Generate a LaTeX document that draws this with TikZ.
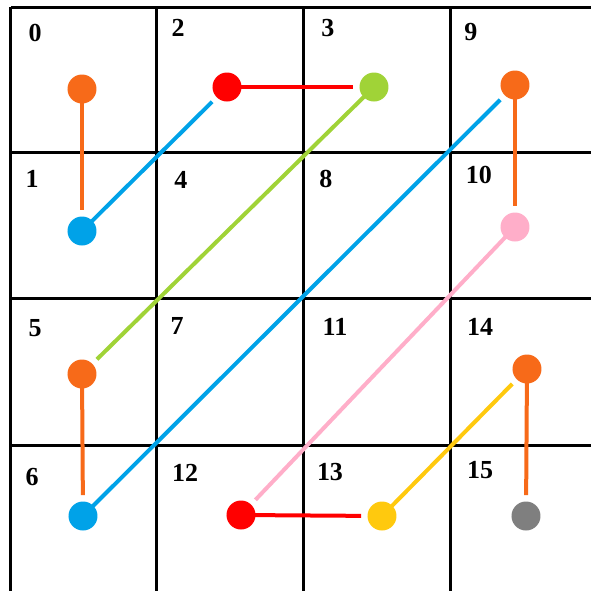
\documentclass[tikz,border=0pt]{standalone}
\usepackage{fontspec}
\setmainfont{Liberation Serif}
\usepackage{tikz}
\usepackage{xcolor}
\usetikzlibrary{positioning,backgrounds}
\definecolor{dotorange}{HTML}{F76A19}
\definecolor{dotblue}{HTML}{00A2E8}
\definecolor{dotred}{HTML}{FF0000}
\definecolor{dotgreen}{HTML}{A0D337}
\definecolor{dotpink}{HTML}{FFAEC9}
\definecolor{dotyellow}{HTML}{FFC90E}
\definecolor{dotgray}{HTML}{7F7F7F}

\begin{document}
\begin{tikzpicture}[
        x=0.5pt, y=-0.5pt,
        cellnum/.style={font=\fontsize{13}{15}\selectfont\bfseries, inner sep=0pt},
        dot/.style={circle, fill=#1, minimum size=14.5pt, inner sep=0pt},
        gridline/.style={line width=1.5pt, draw=black},
        link/.style={line width=2pt, draw=#1, shorten >=3pt}
      ]
        \useasboundingbox (0,0) rectangle (591,591);
        % cell numbers
        \node[cellnum] (l0)  at (35,33)   {0};
        \node[cellnum] (l2)  at (178,28)  {2};
        \node[cellnum] (l3)  at (328,28)  {3};
        \node[cellnum] (l9)  at (471,32)  {9};
        \node[cellnum] (l1)  at (32,179)  {1};
        \node[cellnum] (l4)  at (181,180) {4};
        \node[cellnum] (l8)  at (326,179) {8};
        \node[cellnum] (l10) at (479,175) {10};
        \node[cellnum] (l5)  at (35,328)  {5};
        \node[cellnum] (l7)  at (177,326) {7};
        \node[cellnum] (l11) at (335,327) {11};
        \node[cellnum] (l14) at (480,327) {14};
        \node[cellnum] (l6)  at (32,477)  {6};
        \node[cellnum] (l12) at (185,473) {12};
        \node[cellnum] (l13) at (330,472) {13};
        \node[cellnum] (l15) at (480,470) {15};
        % dots
        \node[dot=dotorange] (d0)  at (82,89)   {};
        \node[dot=dotblue]   (d1)  at (82,231)  {};
        \node[dot=dotred]    (d2)  at (227,87)  {};
        \node[dot=dotgreen]  (d3)  at (374,87)  {};
        \node[dot=dotorange] (d5)  at (82,374)  {};
        \node[dot=dotblue]   (d6)  at (83,516)  {};
        \node[dot=dotorange] (d9)  at (515,85)  {};
        \node[dot=dotpink]   (d10) at (515,227) {};
        \node[dot=dotred]    (d12) at (241,515) {};
        \node[dot=dotyellow] (d13) at (382,516) {};
        \node[dot=dotorange] (d14) at (527,369) {};
        \node[dot=dotgray]   (d15) at (526,516) {};
        \begin{scope}[on background layer]
          % grid
          \draw[gridline] (11,7) -- (591,7);
          \draw[gridline] (11,152) -- (591,152);
          \draw[gridline] (11,298) -- (591,298);
          \draw[gridline] (11,445) -- (591,445);
          \draw[gridline] (11,7) -- (11,591);
          \draw[gridline] (157,7) -- (157,591);
          \draw[gridline] (304,7) -- (304,591);
          \draw[gridline] (451,7) -- (451,591);
          % path
          \draw[link=dotorange] (d0.center)  -- (d1);
          \draw[link=dotblue]   (d1.center)  -- (d2);
          \draw[link=dotred]    (d2.center)  -- (d3);
          \draw[link=dotgreen]  (d3.center)  -- (d5);
          \draw[link=dotorange] (d5.center)  -- (d6);
          \draw[link=dotblue]   (d6.center)  -- (d9);
          \draw[link=dotorange] (d9.center)  -- (d10);
          \draw[link=dotpink]   (d10.center) -- (d12);
          \draw[link=dotred]    (d12.center) -- (d13);
          \draw[link=dotyellow] (d13.center) -- (d14);
          \draw[link=dotorange] (d14.center) -- (d15);
        \end{scope}
      \end{tikzpicture}
\end{document}
